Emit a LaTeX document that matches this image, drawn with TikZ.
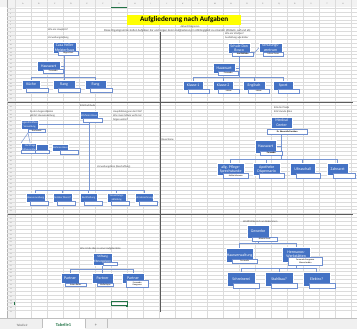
\documentclass[tikz,border=0pt]{standalone}
\usepackage{fontspec}
\setmainfont{Carlito}
\usetikzlibrary{calc}
\pgfdeclarelayer{gridl}
\pgfdeclarelayer{bgl}
\pgfsetlayers{gridl,bgl,main}
\definecolor{boxblue}{HTML}{4472C4}
\definecolor{lblue}{HTML}{6F8FD0}
\definecolor{cblue}{HTML}{7896D2}
\definecolor{gridc}{HTML}{DCDCDC}
\definecolor{divc}{HTML}{5A5A5A}
\definecolor{xlgreen}{HTML}{217346}
\definecolor{titley}{HTML}{FFFF00}
\definecolor{hdrc}{HTML}{F2F2F2}
\newcommand\obx[6]{\node[ob,minimum width=#4,minimum height=#5] (#1) at (#2,#3) {#6};}
\newcommand\lbx[6]{\node[lb,minimum width=#4,minimum height=#5] (#1) at (#2,#3) {#6};}
\tikzset{
  ob/.style={draw=white,line width=0.3pt,fill=boxblue,text=white,inner sep=0pt,align=center,anchor=north west,font=\fontsize{3.9}{4.2}\selectfont},
  lb/.style={draw=lblue,line width=0.45pt,fill=white,text=black,inner sep=0pt,align=center,anchor=north west,font=\fontsize{2.2}{2.5}\selectfont},
  cn/.style={draw=cblue,line width=0.75pt},
  tx/.style={anchor=west,inner sep=0pt,text=black!75,font=\fontsize{2.6}{3}\selectfont},
  divline/.style={draw=divc,line width=1pt},
}
\begin{document}
\begin{tikzpicture}[x=1pt,y=-1pt]
\useasboundingbox (0,0) rectangle (357,329);
\begin{pgfonlayer}{gridl}
\fill[white] (0,0) rectangle (357,329);
% header row and row-number column
\fill[hdrc] (0,0) rectangle (357,7.5);
\fill[hdrc] (7,7.5) rectangle (14.5,318);
\draw[gray!60,line width=0.4pt] (7,0) -- (7,318);
\foreach \i in {0,...,78} {
  \draw[gridc,line width=0.15pt] (7,{8+3.875*\i}) -- (357,{8+3.875*\i});
}
\foreach \i in {0,...,21} {
  \draw[gridc,line width=0.2pt] ({15+16*\i},0) -- ({15+16*\i},318);
}
\foreach \i/\l in {0/A,1/B,2/C,3/D,4/E,5/F,6/G,7/H,8/I,9/J,10/K,11/L,12/M,13/N,14/O,15/P,16/Q,17/R,18/S,19/T,20/U}{
  \node[inner sep=0pt,text=black!60,font=\fontsize{2}{2.2}\selectfont] (col\i) at ({23+16*\i},4) {\l};
}
\foreach \i in {1,...,79}{
  \node[inner sep=0pt,text=black!60,font=\fontsize{1.6}{1.8}\selectfont] (row\i) at (10.8,{8+3.875*(\i-0.5)}) {\i};
}
% selection marks
\draw[xlgreen,line width=0.7pt] (111,7.3) -- (127,7.3);
\draw[xlgreen,line width=0.8pt] (14,301.6) -- (14,305.5);
% sheet tab bar
\fill[gray!12] (0,318) rectangle (357,329);
\fill[white] (42,318) rectangle (85,329);
\draw[gray!50,line width=0.3pt] (0,318) -- (357,318);
\draw[gray!50,line width=0.3pt] (42,319) -- (42,328) (85,319) -- (85,328) (107,319) -- (107,328);
\node[inner sep=0pt,text=black!60,font=\fontsize{3.2}{3.6}\selectfont] (tab0) at (22,325) {Tabelle2};
\node[inner sep=0pt,text=xlgreen,font=\bfseries\fontsize{4.4}{5}\selectfont] (tab1) at (63.5,325) {Tabelle1};
\node[inner sep=0pt,text=black!60,font=\fontsize{4.4}{5}\selectfont] (tab2) at (96,325) {+};
\end{pgfonlayer}

% dividing lines
\draw[divline] (8,102.5) -- (353,102.5);
\draw[divline] (8,215) -- (353,215);
\draw[divline] (160,32) -- (160,312);

% title
\node[fill=titley,minimum width=114,minimum height=9.5,inner sep=0pt,anchor=north west,font=\bfseries\fontsize{7.2}{8}\selectfont] (title) at (127,15) {Aufgliederung nach Aufgaben};
\node[inner sep=0pt,text=black!75,font=\fontsize{2.6}{3}\selectfont] (sub) at (190,27) {Aktuell Diagramm};
\node[tx,font=\fontsize{2.9}{3.2}\selectfont] (desc) at (104,31) {Diese Organigramme stellen Aufgaben dar und zeigen deren Aufgliederung in Abhängigkeit zu einander (Abläufe, auf und ab)};

% ---------- Q1 ----------
\node[tx] (t1a) at (48,30) {Wie am Hauptsitz?};
\node[tx] (t1b) at (48,38) {Verwaltungsleitung};
\obx{casa}{53}{42}{23}{11}{Casa Heller\\Meisterhaus}
\obx{hw1}{37}{61}{23}{10}{Hauswart}
\obx{k1}{22}{80}{18}{9}{Küche}
\obx{r1}{53}{80}{22}{9}{Rang}
\obx{r2}{85}{80}{21}{9}{Rang}
\lbx{casaL}{58}{51}{20}{3.6}{Jürgen Rast}
\lbx{hw1L}{43}{69}{20}{3.6}{Fernando}
\lbx{k1L}{26}{88}{22}{4.5}{}
\lbx{r1L}{58}{88}{22}{4.5}{}
\lbx{r2L}{90}{88}{22}{4.5}{}
\coordinate (j1) at (0,77);
\begin{pgfonlayer}{bgl}
\draw[cn] (casa.south) -- (casa.south |- j1);
\draw[cn] (k1.north) |- (r2.north |- j1) -- (r2.north);
\draw[cn] (r1.north) -- (r1.north |- j1);
\draw[cn] (hw1.east) -- (hw1.east -| casa.south);
\end{pgfonlayer}

% ---------- Q2 ----------
\node[tx] (t2a) at (225,34) {Wie am Vilschen?};
\node[tx] (t2b) at (225,38) {Ausbildung wie bisher};
\obx{sch}{228}{43}{22}{10}{Schule Don\\Bosco}
\obx{szt}{259}{43}{23}{9}{Schulungs-\\zentrum}
\obx{hw2}{213}{63}{22}{10}{Hauswart}
\obx{kl1}{183}{81}{20}{9}{Klasse 1}
\obx{kl2}{213}{81}{20}{9}{Klasse 2}
\obx{eng}{243}{81}{22}{9}{Englisch}
\obx{spo}{273}{81}{20}{9}{Sport}
\lbx{schL}{232}{52}{21}{3.6}{\bfseries José Bellicha}
\lbx{sztL}{263}{52}{20}{3.6}{Lehrer Frenz}
\lbx{hw2L}{218}{71}{20}{3.6}{Fernando}
\lbx{kl1L}{188}{89}{21}{4}{}
\lbx{kl2L}{218}{89}{21}{4}{Lehrer}
\lbx{engL}{248}{89}{21}{4}{Lehrer}
\lbx{spoL}{278}{89}{21}{4}{}
\coordinate (j2) at (0,77);
\begin{pgfonlayer}{bgl}
\draw[cn] (sch.south) -- (sch.south |- j2);
\draw[cn] (kl1.north) |- (spo.north |- j2) -- (spo.north);
\draw[cn] (kl2.north) -- (kl2.north |- j2);
\draw[cn] (eng.north) -- (eng.north |- j2);
\draw[cn] (hw2.east) -- (hw2.east -| sch.south);
\draw[cn,line width=0.5pt] (schL.east) -- (szt.west);
\end{pgfonlayer}

% ---------- Q3 ----------
\node[tx] (t3a) at (80,105.5) {Erik Dachbude};
\node[tx] (t3b) at (30,112) {Zu den Gegenständen};
\node[tx] (t3c) at (30,116) {gehört Hausverwaltung};
\node[tx] (t3d) at (113,112) {Hauptbildung von der FGH?};
\node[tx] (t3e) at (113,116) {Was muss Schule wohl mal};
\node[tx] (t3f) at (113,120) {folgen wohin?};
\node[tx] (t3g) at (97,167) {Verwaltungsbüro (Beschaffung)};
\node[tx] (t3h) at (161.5,140) {Bauschiene};
\obx{wh}{80}{111}{18}{8}{\fontsize{2.8}{3.1}\selectfont Wohnen Haus}
\obx{jv}{21}{120}{17}{9}{\fontsize{2.6}{3}\selectfont Jugend Haftere\\\fontsize{2.6}{3}\selectfont Verwaltung}
\obx{nm}{21}{143}{18}{9}{\fontsize{2.6}{3}\selectfont Nachfrage\\\fontsize{2.6}{3}\selectfont Mitverwaltung}
\obx{nm2}{36}{144}{12}{8}{}
\obx{wh2}{52}{144}{16}{7}{\fontsize{2.6}{3}\selectfont Wohnen Haus}
\obx{b1}{26}{193}{19}{9}{\fontsize{2.6}{3}\selectfont Hausverwaltung}
\obx{b2}{53}{193}{19}{9}{\fontsize{2.6}{3}\selectfont Sozialer Dienst?}
\obx{b3}{80}{193}{17}{9}{\fontsize{2.6}{3}\selectfont Buchhaltung}
\obx{b4}{107}{193}{19}{9}{\fontsize{2.6}{3}\selectfont Verwaltungs-\\\fontsize{2.6}{3}\selectfont abteilung}
\obx{b5}{135}{193}{18}{9}{\fontsize{2.6}{3}\selectfont Lohnabrechnung}
\lbx{whL}{83}{118}{19}{4}{}
\lbx{jvL}{28}{129}{17}{3.5}{Nachname}
\lbx{nmL}{21}{150.5}{17}{3}{}
\lbx{nm2L}{35}{150.5}{14}{3}{}
\lbx{wh2L}{60}{150.5}{18}{4}{}
\lbx{b1L}{30}{201}{18}{3.6}{}
\lbx{b2L}{57}{201}{18}{3.6}{}
\lbx{b3L}{84}{201}{18}{3.6}{}
\lbx{b4L}{111}{201}{18}{3.6}{}
\lbx{b5L}{139}{201}{18}{3.6}{}
\coordinate (j3) at (0,190);
\begin{pgfonlayer}{bgl}
\draw[cn] (wh.south) -- (wh.south |- j3);
\draw[cn] (b1.north) |- (b5.north |- j3) -- (b5.north);
\draw[cn] (b2.north) -- (b2.north |- j3);
\draw[cn] (b3.north) -- (b3.north |- j3);
\draw[cn] (b4.north) -- (b4.north |- j3);
\draw[cn] (jv.east) -- (jv.east -| wh.south);
\draw[cn,line width=0.5pt] (jvL.south west) -- (nm.north west);
\draw[cn,line width=0.5pt] (jvL.south west) -- (nm.north);
\end{pgfonlayer}

% ---------- Q4 ----------
\node[tx] (t4a) at (274,108) {Erik die Plante};
\node[tx] (t4b) at (274,112) {Erik Stunde Allen};
\obx{mc}{271}{117}{21}{11}{Medical\\Center}
\obx{hw4}{255}{140}{21}{13}{Hauswart}
\obx{ap}{217}{163}{27}{12}{allg. Pflege-\\Sprechstunde}
\obx{apo}{253}{163}{27}{12}{Apotheke\\Dispensario}
\obx{ul}{290}{163}{25}{12}{Ultraschall}
\obx{za}{327}{163}{21}{12}{Zahnarzt}
\lbx{mcL}{267}{129}{40}{5}{\bfseries Dr. Ebeneidis Pantalon}
\lbx{hw4L}{260}{151}{22}{4}{\bfseries Fernando}
\lbx{apL}{223}{173}{25}{5}{Asilán Jehowen}
\lbx{apoL}{259}{173}{25}{5}{}
\lbx{ulL}{296}{173}{24}{5}{}
\lbx{zaL}{333}{173}{22}{5}{}
\coordinate (j4) at (0,159);
\begin{pgfonlayer}{bgl}
\draw[cn] (mc.south) -- (mc.south |- j4);
\draw[cn] (ap.north) |- (za.north |- j4) -- (za.north);
\draw[cn] (apo.north) -- (apo.north |- j4);
\draw[cn] (ul.north) -- (ul.north |- j4);
\draw[cn] (hw4.east) -- (hw4.east -| mc.south);
\end{pgfonlayer}

% ---------- Q5 ----------
\node[tx] (t5a) at (80,249) {Was ist die Idee zu einer Aufgabenliste};
\obx{st}{93}{253}{19}{12}{\fontsize{3.3}{3.7}\selectfont Stiftung\\\fontsize{3.3}{3.7}\selectfont Ebnergelgen}
\obx{p1}{61}{273}{18}{10}{Partner}
\obx{p2}{92}{273}{21}{10}{Partner}
\obx{p3}{122}{273}{22}{10}{Partner}
\lbx{stL}{103}{262}{14}{3.5}{}
\lbx{p1L}{65}{283}{21}{3.5}{Anton Reiter}
\lbx{p2L}{97}{283}{16}{3.5}{Mello Rojas}
\lbx{p3L}{126}{280}{22}{7}{Fernando\\Gangnoso}
\coordinate (j5) at (0,269);
\begin{pgfonlayer}{bgl}
\draw[cn] (st.south) -- (st.south |- j5);
\draw[cn] (p1.north) |- (p3.north |- j5) -- (p3.north);
\draw[cn] (p2.north) -- (p2.north |- j5);
\end{pgfonlayer}
% selected cell
\draw[xlgreen,line width=0.8pt] (111,301.6) rectangle (127,305.6);
\fill[xlgreen] (126.2,304.8) rectangle (128,306.6);

% ---------- Q6 ----------
\node[tx] (t6a) at (243,222) {Wohlfühlbereich am Abkommen};
\obx{gw}{247}{225}{22}{13}{Gewerbe}
\obx{hv}{226}{248}{27}{14}{Hausverwaltung}
\obx{hm}{282}{247}{28}{15}{Hermanos-\\Werkstätten}
\obx{sr}{227}{272}{28}{14}{Schreinerei}
\obx{sb}{265}{272}{28}{14}{Stahlbau?}
\obx{el}{303}{272}{27}{14}{Elektro?}
\lbx{gwL}{252}{237}{25}{4}{Nikolai Gruel}
\lbx{hvL}{232}{259}{25}{4}{Fernando}
\lbx{hmL}{288}{257}{34}{8}{Fernando Gangnoso\\Mauro Jordán}
\lbx{srL}{233}{283}{26}{5}{}
\lbx{sbL}{271}{283}{26}{5}{}
\lbx{elL}{309}{283}{26}{5}{}
\coordinate (j6) at (0,243);
\coordinate (j7) at (0,268);
\begin{pgfonlayer}{bgl}
\draw[cn] (gw.south) -- (gw.south |- j6);
\draw[cn] (hv.north) |- (hm.north |- j6) -- (hm.north);
\draw[cn] (hm.south) -- (hm.south |- j7);
\draw[cn] (sr.north) |- (el.north |- j7) -- (el.north);
\draw[cn] (sb.north) -- (sb.north |- j7);
\end{pgfonlayer}
\end{tikzpicture}
\end{document}
